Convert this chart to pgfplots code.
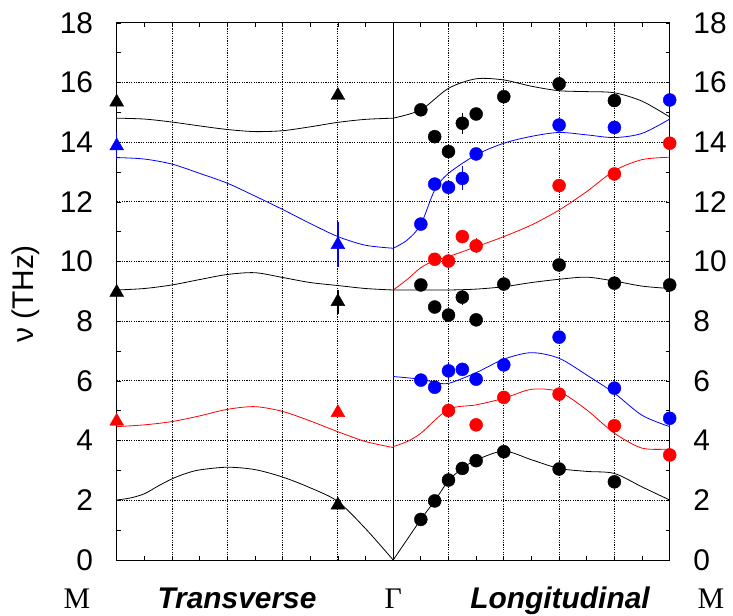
\documentclass[border=0pt]{standalone}
\usepackage{fontspec}
\setmainfont{Liberation Sans}
\newfontfamily\tnr{Liberation Serif}
\usepackage{pgfplots}
\pgfplotsset{compat=1.18}

\begin{document}
\begin{tikzpicture}
\path[use as bounding box] (-116.7bp,-56bp) rectangle (616.3bp,560bp);
\begin{axis}[
  scale only axis, width=553bp, height=537bp,
  xmin=0, xmax=10, ymin=0, ymax=18,
  xtick={0,...,10}, ytick={0,2,...,18},
  minor x tick num=1, minor y tick num=1,
  xticklabels={},
  tick pos=both, tick align=inside,
  major tick length=4bp, minor tick length=4bp,
  tick style={black, line width=0.8bp},
  grid=major,
  major grid style={black, line width=1bp, dash pattern=on 1.2bp off 1.2bp},
  axis line style={black, line width=1bp},
  clip=false,
  /pgf/number format/assume math mode=true,
  yticklabel style={font=\fontsize{30}{36}\selectfont, inner sep=0pt, xshift=-23.5bp},
]
% Gamma separator
\addplot[black, line width=0.8bp] coordinates {(5,0) (5,18)};

% transverse (M - Gamma)
\addplot[black, line width=0.8bp, smooth] coordinates {(0,14.81)(0.5,14.78)(1,14.68)(1.5,14.55)(2,14.43)(2.5,14.36)(3,14.39)(3.5,14.52)(4,14.67)(4.5,14.77)(5,14.81)};
\addplot[blue, line width=0.8bp, smooth] coordinates {(0,13.49)(0.5,13.44)(1,13.27)(1.5,12.96)(2,12.63)(2.5,12.2)(3,11.75)(3.5,11.28)(4,10.84)(4.5,10.55)(5,10.45)};
\addplot[black, line width=0.8bp, smooth] coordinates {(0,9.05)(0.5,9.1)(1,9.22)(1.5,9.4)(2,9.57)(2.5,9.63)(3,9.47)(3.5,9.3)(4,9.2)(4.5,9.1)(5,9.05)};
\addplot[red, line width=0.8bp, smooth] coordinates {(0,4.47)(0.5,4.53)(1,4.64)(1.5,4.83)(2,5.05)(2.5,5.14)(3,4.98)(3.5,4.66)(4,4.30)(4.5,3.97)(5,3.77)};
\addplot[black, line width=0.8bp, smooth] coordinates {(0,2.01)(0.25,2.08)(0.5,2.22)(0.75,2.48)(1,2.72)(1.25,2.9)(1.5,3.02)(2,3.11)(2.5,3.03)(3,2.78)(3.5,2.42)(4,1.96)(4.5,1.05)(5,0)};

% longitudinal (Gamma - M)
\addplot[black, line width=0.8bp, smooth] coordinates {(5,14.81)(5.5,15.09)(6,15.81)(6.5,16.13)(7,16.09)(7.5,15.88)(8,15.73)(8.5,15.70)(9,15.66)(9.5,15.38)(10,14.85)};
\addplot[blue, line width=0.8bp, smooth] coordinates {(5,10.45)(5.25,10.72)(5.5,11.25)(5.75,12.4)(6,12.96)(6.5,13.58)(7,13.97)(7.5,14.2)(8,14.33)(8.5,14.25)(9,14.16)(9.5,14.3)(10,14.78)};
\addplot[red, line width=0.8bp, smooth] coordinates {(5,9.05)(5.25,9.4)(5.5,9.8)(5.75,10.04)(6,10.17)(6.5,10.5)(7,10.84)(7.5,11.23)(8,11.73)(8.5,12.35)(9,13.05)(9.5,13.42)(10,13.5)};
\addplot[black, line width=0.8bp, smooth] coordinates {(5,9.05)(5.5,9.05)(6,9.05)(6.5,9.08)(7,9.16)(7.5,9.3)(8,9.41)(8.5,9.48)(9,9.35)(9.5,9.18)(10,9.1)};
\addplot[blue, line width=0.8bp, smooth] coordinates {(5,6.15)(5.5,6.06)(5.75,5.96)(6,5.92)(6.5,6.28)(7,6.73)(7.5,6.95)(8,6.76)(8.5,6.2)(9,5.59)(9.5,4.85)(10,4.47)};
\addplot[red, line width=0.8bp, smooth] coordinates {(5,3.8)(5.25,3.97)(5.5,4.25)(6,5.05)(6.5,5.2)(7,5.42)(7.5,5.72)(8,5.64)(8.5,5.03)(9,4.25)(9.5,3.75)(10,3.72)};
\addplot[black, line width=0.8bp, smooth] coordinates {(5,0)(5.5,1.36)(5.75,1.98)(6,2.66)(6.25,3.07)(6.5,3.35)(7,3.65)(7.5,3.36)(8,3.07)(8.5,2.97)(9,2.9)(9.5,2.45)(10,2.01)};

% measured points, transverse
\addplot[black, only marks, mark=triangle*, mark size=8bp,
  error bars/.cd, y dir=both, y explicit, error mark=none, error bar style={line width=1.2bp}]
  coordinates {(0,15.35) +- (0,0) (0,8.97) +- (0,0) (4,15.57) +- (0,0) (4,8.66) +- (0,0.4) (4,1.84) +- (0,0)};
\addplot[blue, only marks, mark=triangle*, mark size=8bp,
  error bars/.cd, y dir=both, y explicit, error mark=none, error bar style={line width=1.2bp}]
  coordinates {(0,13.88) +- (0,0.45) (4,10.57) +- (0,0.75)};
\addplot[red, only marks, mark=triangle*, mark size=8bp]
  coordinates {(0,4.65) (4,4.94)};

% measured points, longitudinal
\addplot[black, only marks, mark=*, mark size=6.5bp,
  error bars/.cd, y dir=both, y explicit, error mark=none, error bar style={line width=1.2bp}]
  coordinates {
  (5.5,15.09) +- (0,0) (5.75,14.19) +- (0,0.15) (6,13.69) +- (0,0) (6.25,14.64) +- (0,0.35)
  (6.5,14.95) +- (0,0.2) (7,15.53) +- (0,0) (8,15.96) +- (0,0) (9,15.40) +- (0,0)
  (5.5,9.22) +- (0,0) (5.75,8.48) +- (0,0) (6,8.21) +- (0,0.15) (6.25,8.81) +- (0,0.25)
  (6.5,8.05) +- (0,0.2) (7,9.25) +- (0,0) (8,9.89) +- (0,0) (9,9.28) +- (0,0) (10,9.22) +- (0,0)
  (5.5,1.36) +- (0,0) (5.75,1.98) +- (0,0) (6,2.68) +- (0,0) (6.25,3.07) +- (0,0)
  (6.5,3.33) +- (0,0) (7,3.63) +- (0,0) (8,3.05) +- (0,0) (9,2.62) +- (0,0)};
\addplot[blue, only marks, mark=*, mark size=6.5bp,
  error bars/.cd, y dir=both, y explicit, error mark=none, error bar style={line width=1.2bp}]
  coordinates {
  (5.5,11.26) +- (0,0) (5.75,12.6) +- (0,0) (6,12.49) +- (0,0) (6.25,12.79) +- (0,0.4)
  (6.5,13.61) +- (0,0) (8,14.58) +- (0,0) (9,14.5) +- (0,0) (10,15.42) +- (0,0)
  (5.5,6.03) +- (0,0.2) (5.75,5.79) +- (0,0) (6,6.34) +- (0,0.3) (6.25,6.39) +- (0,0.2)
  (6.5,6.06) +- (0,0.2) (7,6.54) +- (0,0.2) (8,7.47) +- (0,0) (9,5.76) +- (0,0.25) (10,4.75) +- (0,0)};
\addplot[red, only marks, mark=*, mark size=6.5bp,
  error bars/.cd, y dir=both, y explicit, error mark=none, error bar style={line width=1.2bp}]
  coordinates {
  (5.75,10.08) +- (0,0) (6,10.02) +- (0,0) (6.25,10.84) +- (0,0.2) (6.5,10.53) +- (0,0.25)
  (8,12.55) +- (0,0) (9,12.94) +- (0,0.2) (10,13.97) +- (0,0.15)
  (6,5.01) +- (0,0.25) (6.5,4.53) +- (0,0) (7,5.45) +- (0,0) (8,5.56) +- (0,0)
  (9,4.5) +- (0,0) (10,3.52) +- (0,0)};
\end{axis}

% right-hand tick labels
\begin{axis}[
  scale only axis, width=553bp, height=537bp,
  xmin=0, xmax=10, ymin=0, ymax=18,
  xtick=\empty, ytick={0,2,...,18},
  yticklabel pos=right,
  axis line style={draw=none}, major tick length=0pt,
  /pgf/number format/assume math mode=true,
  yticklabel style={font=\fontsize{30}{36}\selectfont, inner sep=0pt, xshift=23.5bp},
]
\end{axis}

\node[rotate=90, anchor=base, font=\fontsize{30}{36}\selectfont] at (-83.4bp,266bp) {ν (THz)};
\node[anchor=base, font=\tnr\fontsize{30}{36}\selectfont] at (-39.7bp,-48.5bp) {M};
\node[anchor=base, font=\fontsize{30}{36}\selectfont\bfseries\itshape] at (120.3bp,-48.5bp) {Transverse};
\node[anchor=base, font=\tnr\fontsize{30}{36}\selectfont] at (276.6bp,-48.5bp) {Γ};
\node[anchor=base, font=\fontsize{30}{36}\selectfont\bfseries\itshape] at (443.3bp,-48.5bp) {Longitudinal};
\node[anchor=base, font=\tnr\fontsize{30}{36}\selectfont] at (594.3bp,-48.5bp) {M};
\end{tikzpicture}
\end{document}
